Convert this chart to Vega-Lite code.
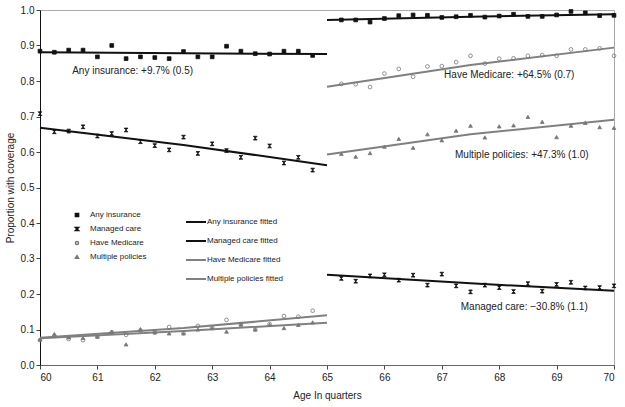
{
  "$schema": "https://vega.github.io/schema/vega-lite/v6.json",
  "width": 574,
  "height": 355,
  "autosize": {"type": "none"},
  "padding": {"left": 40, "top": 10, "right": 11, "bottom": 42},
  "config": {
    "font": "Liberation Sans",
    "view": {"stroke": "#aaaaaa", "strokeWidth": 1},
    "axis": {
      "grid": false,
      "labelFontSize": 10,
      "labelColor": "#222222",
      "titleFontSize": 10,
      "titleFontWeight": "normal",
      "titleColor": "#222222",
      "tickSize": 4,
      "tickColor": "#444444",
      "domainColor": "#333333"
    },
    "legend": {
      "title": null,
      "labelFontSize": 8,
      "labelColor": "#222222",
      "padding": 0,
      "rowPadding": 4
    }
  },
  "datasets": {
    "pts": [
      {"age": 60, "series": "Any insurance", "value": 0.884},
      {"age": 60.25, "series": "Any insurance", "value": 0.881},
      {"age": 60.5, "series": "Any insurance", "value": 0.887},
      {"age": 60.75, "series": "Any insurance", "value": 0.887},
      {"age": 61, "series": "Any insurance", "value": 0.868},
      {"age": 61.25, "series": "Any insurance", "value": 0.900},
      {"age": 61.5, "series": "Any insurance", "value": 0.863},
      {"age": 61.75, "series": "Any insurance", "value": 0.868},
      {"age": 62, "series": "Any insurance", "value": 0.866},
      {"age": 62.25, "series": "Any insurance", "value": 0.863},
      {"age": 62.5, "series": "Any insurance", "value": 0.883},
      {"age": 62.75, "series": "Any insurance", "value": 0.868},
      {"age": 63, "series": "Any insurance", "value": 0.868},
      {"age": 63.25, "series": "Any insurance", "value": 0.898},
      {"age": 63.5, "series": "Any insurance", "value": 0.884},
      {"age": 63.75, "series": "Any insurance", "value": 0.877},
      {"age": 64, "series": "Any insurance", "value": 0.876},
      {"age": 64.25, "series": "Any insurance", "value": 0.884},
      {"age": 64.5, "series": "Any insurance", "value": 0.884},
      {"age": 64.75, "series": "Any insurance", "value": 0.872},
      {"age": 65.25, "series": "Any insurance", "value": 0.972},
      {"age": 65.5, "series": "Any insurance", "value": 0.972},
      {"age": 65.75, "series": "Any insurance", "value": 0.966},
      {"age": 66, "series": "Any insurance", "value": 0.976},
      {"age": 66.25, "series": "Any insurance", "value": 0.984},
      {"age": 66.5, "series": "Any insurance", "value": 0.986},
      {"age": 66.75, "series": "Any insurance", "value": 0.985},
      {"age": 67, "series": "Any insurance", "value": 0.979},
      {"age": 67.25, "series": "Any insurance", "value": 0.981},
      {"age": 67.5, "series": "Any insurance", "value": 0.985},
      {"age": 67.75, "series": "Any insurance", "value": 0.980},
      {"age": 68, "series": "Any insurance", "value": 0.983},
      {"age": 68.25, "series": "Any insurance", "value": 0.988},
      {"age": 68.5, "series": "Any insurance", "value": 0.982},
      {"age": 68.75, "series": "Any insurance", "value": 0.982},
      {"age": 69, "series": "Any insurance", "value": 0.986},
      {"age": 69.25, "series": "Any insurance", "value": 0.996},
      {"age": 69.5, "series": "Any insurance", "value": 0.992},
      {"age": 69.75, "series": "Any insurance", "value": 0.984},
      {"age": 70, "series": "Any insurance", "value": 0.985},
      {"age": 60, "series": "Managed care", "value": 0.708},
      {"age": 60.25, "series": "Managed care", "value": 0.657},
      {"age": 60.5, "series": "Managed care", "value": 0.659},
      {"age": 60.75, "series": "Managed care", "value": 0.671},
      {"age": 61, "series": "Managed care", "value": 0.645},
      {"age": 61.25, "series": "Managed care", "value": 0.652},
      {"age": 61.5, "series": "Managed care", "value": 0.662},
      {"age": 61.75, "series": "Managed care", "value": 0.629},
      {"age": 62, "series": "Managed care", "value": 0.618},
      {"age": 62.25, "series": "Managed care", "value": 0.606},
      {"age": 62.5, "series": "Managed care", "value": 0.642},
      {"age": 62.75, "series": "Managed care", "value": 0.596},
      {"age": 63, "series": "Managed care", "value": 0.623},
      {"age": 63.25, "series": "Managed care", "value": 0.604},
      {"age": 63.5, "series": "Managed care", "value": 0.585},
      {"age": 63.75, "series": "Managed care", "value": 0.639},
      {"age": 64, "series": "Managed care", "value": 0.617},
      {"age": 64.25, "series": "Managed care", "value": 0.569},
      {"age": 64.5, "series": "Managed care", "value": 0.585},
      {"age": 64.75, "series": "Managed care", "value": 0.549},
      {"age": 65.25, "series": "Managed care", "value": 0.244},
      {"age": 65.5, "series": "Managed care", "value": 0.236},
      {"age": 65.75, "series": "Managed care", "value": 0.251},
      {"age": 66, "series": "Managed care", "value": 0.254},
      {"age": 66.25, "series": "Managed care", "value": 0.239},
      {"age": 66.5, "series": "Managed care", "value": 0.253},
      {"age": 66.75, "series": "Managed care", "value": 0.225},
      {"age": 67, "series": "Managed care", "value": 0.256},
      {"age": 67.25, "series": "Managed care", "value": 0.223},
      {"age": 67.5, "series": "Managed care", "value": 0.206},
      {"age": 67.75, "series": "Managed care", "value": 0.225},
      {"age": 68, "series": "Managed care", "value": 0.218},
      {"age": 68.25, "series": "Managed care", "value": 0.207},
      {"age": 68.5, "series": "Managed care", "value": 0.229},
      {"age": 68.75, "series": "Managed care", "value": 0.208},
      {"age": 69, "series": "Managed care", "value": 0.227},
      {"age": 69.25, "series": "Managed care", "value": 0.233},
      {"age": 69.5, "series": "Managed care", "value": 0.217},
      {"age": 69.75, "series": "Managed care", "value": 0.218},
      {"age": 70, "series": "Managed care", "value": 0.223},
      {"age": 60, "series": "Have Medicare", "value": 0.070},
      {"age": 60.25, "series": "Have Medicare", "value": 0.082},
      {"age": 60.5, "series": "Have Medicare", "value": 0.073},
      {"age": 60.75, "series": "Have Medicare", "value": 0.070},
      {"age": 61, "series": "Have Medicare", "value": 0.080},
      {"age": 61.25, "series": "Have Medicare", "value": 0.092},
      {"age": 61.5, "series": "Have Medicare", "value": 0.085},
      {"age": 61.75, "series": "Have Medicare", "value": 0.097},
      {"age": 62, "series": "Have Medicare", "value": 0.092},
      {"age": 62.25, "series": "Have Medicare", "value": 0.107},
      {"age": 62.5, "series": "Have Medicare", "value": 0.090},
      {"age": 62.75, "series": "Have Medicare", "value": 0.110},
      {"age": 63, "series": "Have Medicare", "value": 0.105},
      {"age": 63.25, "series": "Have Medicare", "value": 0.127},
      {"age": 63.5, "series": "Have Medicare", "value": 0.115},
      {"age": 63.75, "series": "Have Medicare", "value": 0.100},
      {"age": 64, "series": "Have Medicare", "value": 0.115},
      {"age": 64.25, "series": "Have Medicare", "value": 0.138},
      {"age": 64.5, "series": "Have Medicare", "value": 0.136},
      {"age": 64.75, "series": "Have Medicare", "value": 0.153},
      {"age": 65.25, "series": "Have Medicare", "value": 0.792},
      {"age": 65.5, "series": "Have Medicare", "value": 0.791},
      {"age": 65.75, "series": "Have Medicare", "value": 0.783},
      {"age": 66, "series": "Have Medicare", "value": 0.821},
      {"age": 66.25, "series": "Have Medicare", "value": 0.834},
      {"age": 66.5, "series": "Have Medicare", "value": 0.812},
      {"age": 66.75, "series": "Have Medicare", "value": 0.841},
      {"age": 67, "series": "Have Medicare", "value": 0.842},
      {"age": 67.25, "series": "Have Medicare", "value": 0.853},
      {"age": 67.5, "series": "Have Medicare", "value": 0.871},
      {"age": 67.75, "series": "Have Medicare", "value": 0.849},
      {"age": 68, "series": "Have Medicare", "value": 0.863},
      {"age": 68.25, "series": "Have Medicare", "value": 0.864},
      {"age": 68.5, "series": "Have Medicare", "value": 0.871},
      {"age": 68.75, "series": "Have Medicare", "value": 0.873},
      {"age": 69, "series": "Have Medicare", "value": 0.871},
      {"age": 69.25, "series": "Have Medicare", "value": 0.889},
      {"age": 69.5, "series": "Have Medicare", "value": 0.889},
      {"age": 69.75, "series": "Have Medicare", "value": 0.892},
      {"age": 70, "series": "Have Medicare", "value": 0.871},
      {"age": 60, "series": "Multiple policies", "value": 0.072},
      {"age": 60.25, "series": "Multiple policies", "value": 0.087},
      {"age": 60.5, "series": "Multiple policies", "value": 0.078},
      {"age": 60.75, "series": "Multiple policies", "value": 0.076},
      {"age": 61, "series": "Multiple policies", "value": 0.080},
      {"age": 61.25, "series": "Multiple policies", "value": 0.094},
      {"age": 61.5, "series": "Multiple policies", "value": 0.058},
      {"age": 61.75, "series": "Multiple policies", "value": 0.101},
      {"age": 62, "series": "Multiple policies", "value": 0.092},
      {"age": 62.25, "series": "Multiple policies", "value": 0.089},
      {"age": 62.5, "series": "Multiple policies", "value": 0.089},
      {"age": 62.75, "series": "Multiple policies", "value": 0.100},
      {"age": 63, "series": "Multiple policies", "value": 0.104},
      {"age": 63.25, "series": "Multiple policies", "value": 0.094},
      {"age": 63.5, "series": "Multiple policies", "value": 0.114},
      {"age": 63.75, "series": "Multiple policies", "value": 0.100},
      {"age": 64, "series": "Multiple policies", "value": 0.113},
      {"age": 64.25, "series": "Multiple policies", "value": 0.104},
      {"age": 64.5, "series": "Multiple policies", "value": 0.113},
      {"age": 64.75, "series": "Multiple policies", "value": 0.120},
      {"age": 65.25, "series": "Multiple policies", "value": 0.595},
      {"age": 65.5, "series": "Multiple policies", "value": 0.587},
      {"age": 65.75, "series": "Multiple policies", "value": 0.597},
      {"age": 66, "series": "Multiple policies", "value": 0.615},
      {"age": 66.25, "series": "Multiple policies", "value": 0.637},
      {"age": 66.5, "series": "Multiple policies", "value": 0.612},
      {"age": 66.75, "series": "Multiple policies", "value": 0.650},
      {"age": 67, "series": "Multiple policies", "value": 0.633},
      {"age": 67.25, "series": "Multiple policies", "value": 0.660},
      {"age": 67.5, "series": "Multiple policies", "value": 0.674},
      {"age": 67.75, "series": "Multiple policies", "value": 0.641},
      {"age": 68, "series": "Multiple policies", "value": 0.672},
      {"age": 68.25, "series": "Multiple policies", "value": 0.675},
      {"age": 68.5, "series": "Multiple policies", "value": 0.699},
      {"age": 68.75, "series": "Multiple policies", "value": 0.685},
      {"age": 69, "series": "Multiple policies", "value": 0.642},
      {"age": 69.25, "series": "Multiple policies", "value": 0.674},
      {"age": 69.5, "series": "Multiple policies", "value": 0.682},
      {"age": 69.75, "series": "Multiple policies", "value": 0.670},
      {"age": 70, "series": "Multiple policies", "value": 0.668}
    ],
    "fit": [
      {"age": 60, "fit": "Any insurance fitted", "side": "pre", "value": 0.881},
      {"age": 62.5, "fit": "Any insurance fitted", "side": "pre", "value": 0.878},
      {"age": 65, "fit": "Any insurance fitted", "side": "pre", "value": 0.876},
      {"age": 65, "fit": "Any insurance fitted", "side": "post", "value": 0.972},
      {"age": 67.5, "fit": "Any insurance fitted", "side": "post", "value": 0.981},
      {"age": 70, "fit": "Any insurance fitted", "side": "post", "value": 0.988},
      {"age": 60, "fit": "Managed care fitted", "side": "pre", "value": 0.668},
      {"age": 62.5, "fit": "Managed care fitted", "side": "pre", "value": 0.620},
      {"age": 65, "fit": "Managed care fitted", "side": "pre", "value": 0.563},
      {"age": 65, "fit": "Managed care fitted", "side": "post", "value": 0.254},
      {"age": 67.5, "fit": "Managed care fitted", "side": "post", "value": 0.230},
      {"age": 70, "fit": "Managed care fitted", "side": "post", "value": 0.209},
      {"age": 60, "fit": "Have Medicare fitted", "side": "pre", "value": 0.077},
      {"age": 62.5, "fit": "Have Medicare fitted", "side": "pre", "value": 0.104},
      {"age": 65, "fit": "Have Medicare fitted", "side": "pre", "value": 0.140},
      {"age": 65, "fit": "Have Medicare fitted", "side": "post", "value": 0.784},
      {"age": 67.5, "fit": "Have Medicare fitted", "side": "post", "value": 0.845},
      {"age": 70, "fit": "Have Medicare fitted", "side": "post", "value": 0.894},
      {"age": 60, "fit": "Multiple policies fitted", "side": "pre", "value": 0.075},
      {"age": 62.5, "fit": "Multiple policies fitted", "side": "pre", "value": 0.096},
      {"age": 65, "fit": "Multiple policies fitted", "side": "pre", "value": 0.119},
      {"age": 65, "fit": "Multiple policies fitted", "side": "post", "value": 0.593},
      {"age": 67.5, "fit": "Multiple policies fitted", "side": "post", "value": 0.650},
      {"age": 70, "fit": "Multiple policies fitted", "side": "post", "value": 0.691}
    ],
    "notes": [
      {"age": 60.56, "value": 0.829, "label": "Any insurance: +9.7% (0.5)"},
      {"age": 67.04, "value": 0.817, "label": "Have Medicare: +64.5% (0.7)"},
      {"age": 67.23, "value": 0.592, "label": "Multiple policies: +47.3% (1.0)"},
      {"age": 67.33, "value": 0.162, "label": "Managed care: \u221230.8% (1.1)"}
    ]
  },
  "encoding": {
    "x": {
      "field": "age",
      "type": "quantitative",
      "title": "Age In quarters",
      "scale": {"domain": [60, 70], "nice": false, "zero": false},
      "axis": {"values": [60, 61, 62, 63, 64, 65, 66, 67, 68, 69, 70], "format": "d", "titlePadding": 8, "labelPadding": 3, "domainColor": "#666666"}
    },
    "y": {
      "field": "value",
      "type": "quantitative",
      "title": "Proportion with coverage",
      "scale": {"domain": [0, 1], "nice": false},
      "axis": {"values": [0, 0.1, 0.2, 0.3, 0.4, 0.5, 0.6, 0.7, 0.8, 0.9, 1], "format": ".1f", "titlePadding": 5, "labelPadding": 2, "domainColor": "#111111"}
    }
  },
  "layer": [
    {
      "data": {"name": "fit"},
      "mark": {"type": "line", "strokeWidth": 2},
      "encoding": {
        "detail": {"field": "side"},
        "color": {
          "field": "fit",
          "type": "nominal",
          "scale": {
            "domain": ["Any insurance fitted", "Managed care fitted", "Have Medicare fitted", "Multiple policies fitted"],
            "range": ["#111111", "#111111", "#808080", "#808080"]
          },
          "legend": {"orient": "none", "legendX": 145, "legendY": 201, "symbolType": "stroke", "symbolSize": 400, "symbolStrokeWidth": 2, "labelOffset": 0}
        }
      }
    },
    {
      "data": {"name": "pts"},
      "mark": {"type": "point", "size": 14, "strokeWidth": 0.8, "opacity": 1},
      "encoding": {
        "shape": {
          "field": "series",
          "type": "nominal",
          "scale": {
            "domain": ["Any insurance", "Managed care", "Have Medicare", "Multiple policies"],
            "range": ["square", "M-1,-1L1,-1L-1,1L1,1Z", "circle", "triangle-up"]
          },
          "legend": {"orient": "none", "legendX": 33, "legendY": 201, "symbolSize": 10, "labelOffset": 9}
        },
        "fill": {
          "field": "series",
          "type": "nominal",
          "scale": {
            "domain": ["Any insurance", "Managed care", "Have Medicare", "Multiple policies"],
            "range": ["#111111", "#111111", "transparent", "#777777"]
          }
        },
        "stroke": {
          "field": "series",
          "type": "nominal",
          "scale": {
            "domain": ["Any insurance", "Managed care", "Have Medicare", "Multiple policies"],
            "range": ["#111111", "#111111", "#777777", "#777777"]
          }
        }
      }
    },
    {
      "data": {"name": "notes"},
      "mark": {"type": "text", "align": "left", "baseline": "middle", "fontSize": 10, "color": "#222222"},
      "encoding": {
        "text": {"field": "label"}
      }
    }
  ]
}
